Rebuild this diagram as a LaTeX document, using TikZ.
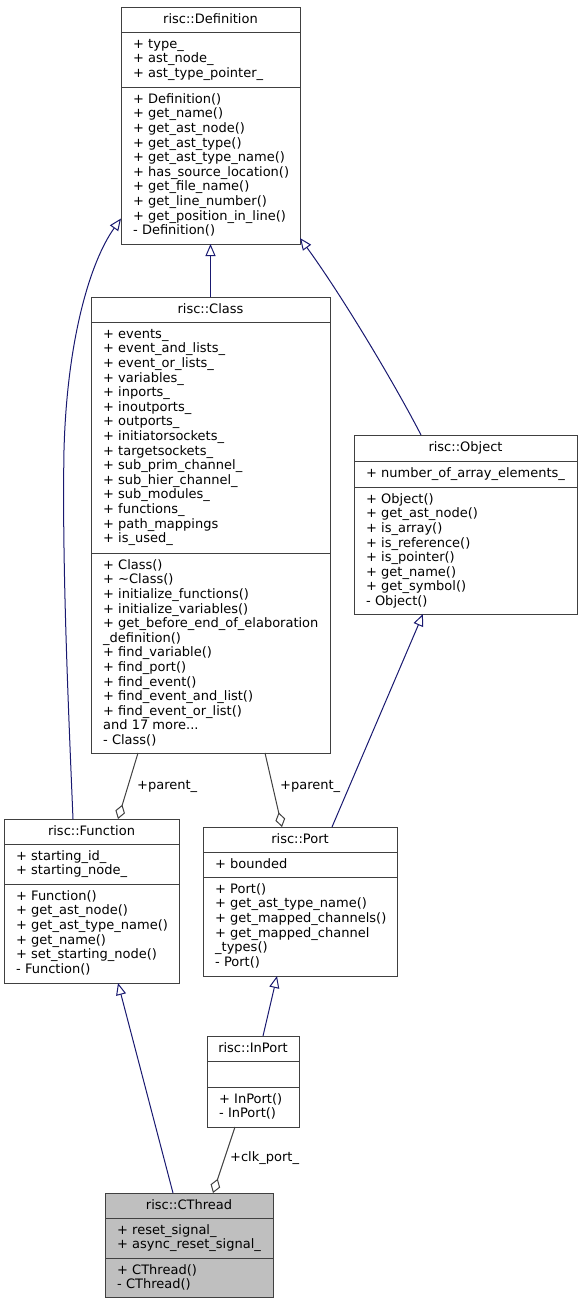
\documentclass[tikz,border=0pt]{standalone}
\usepackage{fontspec}
\setmainfont{DejaVu Sans}
\usetikzlibrary{arrows.meta}
\definecolor{inhcol}{HTML}{191970}
\definecolor{aggcol}{HTML}{404040}
\definecolor{boxcol}{HTML}{404040}
\definecolor{curcol}{HTML}{BFBFBF}
\newcommand{\uml}{\fontsize{13pt}{14.6pt}\selectfont}
\newcommand{\mstrut}{\rule{0pt}{11pt}}
\begin{document}
\begin{tikzpicture}[x=1pt,y=-1pt,
		box/.style={draw=boxcol, line width=1pt, anchor=north west, inner sep=0pt, outer sep=0pt, fill=white},
		sepline/.style={draw=boxcol, line width=1pt},
		title/.style={anchor=base, inner sep=0pt, font=\uml},
		members/.style={anchor=north west, inner sep=0pt, align=left, font=\uml},
		inherit/.style={draw=inhcol, line width=1pt, -{Triangle[open,length=12pt,width=10pt]}},
		aggr/.style={draw=aggcol, line width=1pt, -{Diamond[open,length=15pt,width=10pt]}},
		lbl/.style={anchor=west, inner sep=0pt, font=\uml}
	]
	\useasboundingbox (0,0) rectangle (581,1304);

	% risc::Definition
	\node[box, minimum width=179pt, minimum height=237pt] (def) at (121,7) {};
	\draw[sepline] ([yshift=-25pt]def.north west) -- ([yshift=-25pt]def.north east);
	\draw[sepline] ([yshift=-80pt]def.north west) -- ([yshift=-80pt]def.north east);
	\node[title] (deft) at (210.5,23) {risc::Definition};
	\node[members] (defa) at (133,37) {\mstrut+ type\_\\+ ast\_node\_\\+ ast\_type\_pointer\_};
	\node[members] (defm) at (133,92) {\mstrut+ Definition()\\+ get\_name()\\+ get\_ast\_node()\\+ get\_ast\_type()\\+ get\_ast\_type\_name()\\+ has\_source\_location()\\+ get\_file\_name()\\+ get\_line\_number()\\+ get\_position\_in\_line()\\- Definition()};

	% risc::Class
	\node[box, minimum width=239pt, minimum height=456pt] (cls) at (91,297) {};
	\draw[sepline] ([yshift=-25pt]cls.north west) -- ([yshift=-25pt]cls.north east);
	\draw[sepline] ([yshift=-256pt]cls.north west) -- ([yshift=-256pt]cls.north east);
	\node[title] (clst) at (210.5,313) {risc::Class};
	\node[members] (clsa) at (103,327) {\mstrut+ events\_\\+ event\_and\_lists\_\\+ event\_or\_lists\_\\+ variables\_\\+ inports\_\\+ inoutports\_\\+ outports\_\\+ initiatorsockets\_\\+ targetsockets\_\\+ sub\_prim\_channel\_\\+ sub\_hier\_channel\_\\+ sub\_modules\_\\+ functions\_\\+ path\_mappings\\+ is\_used\_};
	\node[members] (clsm) at (103,558) {\mstrut+ Class()\\+ \textasciitilde Class()\\+ initialize\_functions()\\+ initialize\_variables()\\+ get\_before\_end\_of\_elaboration\\\_definition()\\+ find\_variable()\\+ find\_port()\\+ find\_event()\\+ find\_event\_and\_list()\\+ find\_event\_or\_list()\\and 17 more...\\- Class()};

	% risc::Object
	\node[box, minimum width=223pt, minimum height=179pt] (obj) at (354,435) {};
	\draw[sepline] ([yshift=-26pt]obj.north west) -- ([yshift=-26pt]obj.north east);
	\draw[sepline] ([yshift=-52pt]obj.north west) -- ([yshift=-52pt]obj.north east);
	\node[title] (objt) at (465.5,451) {risc::Object};
	\node[members] (obja) at (366,466) {\mstrut+ number\_of\_array\_elements\_};
	\node[members] (objm) at (366,492) {\mstrut+ Object()\\+ get\_ast\_node()\\+ is\_array()\\+ is\_reference()\\+ is\_pointer()\\+ get\_name()\\+ get\_symbol()\\- Object()};

	% risc::Function
	\node[box, minimum width=175pt, minimum height=164pt] (func) at (4,819) {};
	\draw[sepline] ([yshift=-25pt]func.north west) -- ([yshift=-25pt]func.north east);
	\draw[sepline] ([yshift=-65pt]func.north west) -- ([yshift=-65pt]func.north east);
	\node[title] (funct) at (91.5,835) {risc::Function};
	\node[members] (funca) at (16,849) {\mstrut+ starting\_id\_\\+ starting\_node\_};
	\node[members] (funcm) at (16,889) {\mstrut+ Function()\\+ get\_ast\_node()\\+ get\_ast\_type\_name()\\+ get\_name()\\+ set\_starting\_node()\\- Function()};

	% risc::Port
	\node[box, minimum width=194pt, minimum height=149pt] (port) at (203,827) {};
	\draw[sepline] ([yshift=-25pt]port.north west) -- ([yshift=-25pt]port.north east);
	\draw[sepline] ([yshift=-50pt]port.north west) -- ([yshift=-50pt]port.north east);
	\node[title] (portt) at (300,843) {risc::Port};
	\node[members] (porta) at (215,857) {\mstrut+ bounded};
	\node[members] (portm) at (215,882) {\mstrut+ Port()\\+ get\_ast\_type\_name()\\+ get\_mapped\_channels()\\+ get\_mapped\_channel\\\_types()\\- Port()};

	% risc::InPort
	\node[box, minimum width=92pt, minimum height=91pt] (inport) at (207,1036) {};
	\draw[sepline] ([yshift=-25pt]inport.north west) -- ([yshift=-25pt]inport.north east);
	\draw[sepline] ([yshift=-51pt]inport.north west) -- ([yshift=-51pt]inport.north east);
	\node[title] (inportt) at (253,1052) {risc::InPort};
	\node[members] (inportm) at (219,1092) {\mstrut+ InPort()\\- InPort()};

	% risc::CThread
	\node[box, fill=curcol, minimum width=168pt, minimum height=104pt] (thread) at (105,1193) {};
	\draw[sepline] ([yshift=-25pt]thread.north west) -- ([yshift=-25pt]thread.north east);
	\draw[sepline] ([yshift=-65pt]thread.north west) -- ([yshift=-65pt]thread.north east);
	\node[title] (threadt) at (189,1209) {risc::CThread};
	\node[members] (threada) at (117,1223) {\mstrut+ reset\_signal\_\\+ async\_reset\_signal\_};
	\node[members] (threadm) at (117,1263) {\mstrut+ CThread()\\- CThread()};

	% inheritance
	\draw[inherit] (cls.north) -- (def.south);
	\draw[inherit] ([xshift=69pt]func.north west) .. controls (68,700) and (62,560) .. (64,450)
		.. controls (67,340) and (90,262) .. ([yshift=-93pt]def.west);
	\draw[inherit] ([xshift=67pt]obj.north west) .. controls (398,390) and (345,300) .. ([yshift=6pt]def.south east);
	\draw[inherit] ([xshift=129pt]port.north west) -- ([xshift=69pt]obj.south west);
	\draw[inherit] ([xshift=68pt]thread.north west) -- ([xshift=114pt]func.south west);
	\draw[inherit] ([xshift=56pt]inport.north west) -- ([xshift=74pt]port.south west);

	% members
	\draw[aggr] ([xshift=47pt]cls.south west) -- ([xshift=114pt]func.north west);
	\node[lbl] (par1) at (137,786) {+parent\_};
	\draw[aggr] ([xshift=174pt]cls.south west) -- ([xshift=79pt]port.north west);
	\node[lbl] (par2) at (280,786) {+parent\_};
	\draw[aggr] ([xshift=28pt]inport.south west) -- ([xshift=108pt]thread.north west);
	\node[lbl] (clk) at (230,1158) {+clk\_port\_};
\end{tikzpicture}
\end{document}
